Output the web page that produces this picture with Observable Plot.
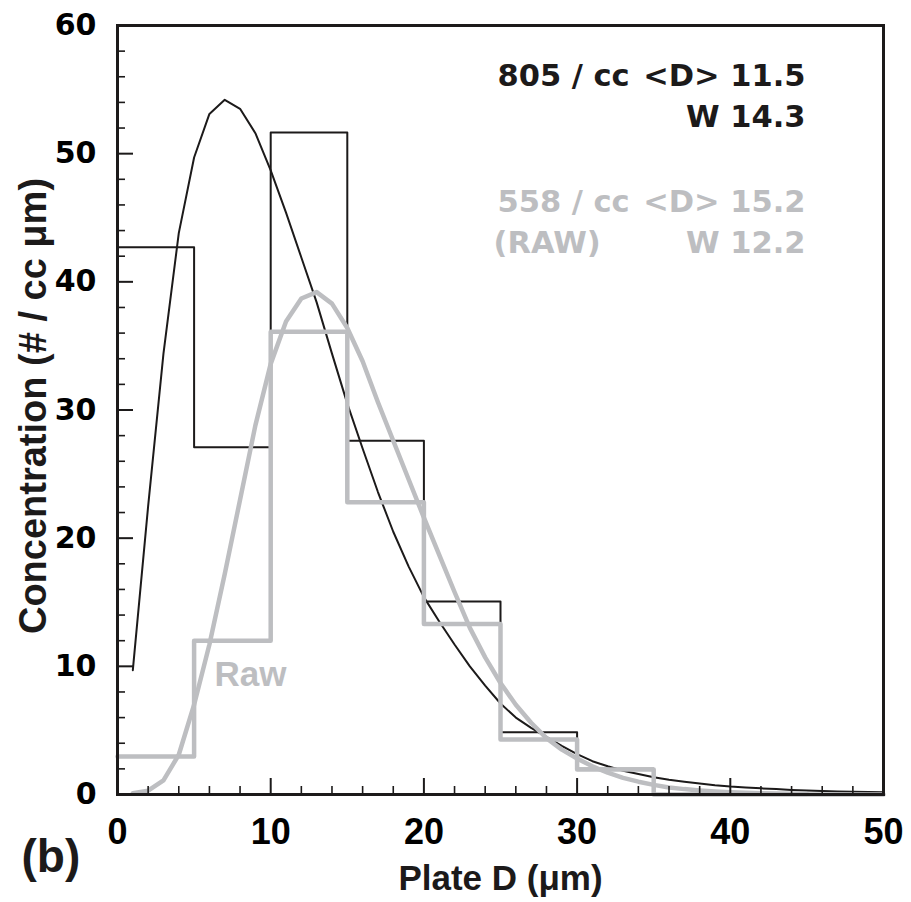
<!DOCTYPE html>
<html><head><meta charset="utf-8">
<script src="https://cdn.jsdelivr.net/npm/d3@7"></script>
<script src="https://cdn.jsdelivr.net/npm/@observablehq/plot@0.6"></script>
<style>body{margin:0;background:#fff}</style>
</head><body><div id="chart"></div>
<script>
// Histogram bin edges (µm) and bin concentrations
const binEdges = [0, 5, 10, 15, 20, 25, 30, 35, 50];
const correctedBins = [42.7, 27.1, 51.65, 27.6, 15.05, 4.85, 2.0, 0];
const rawBins = [2.96, 12.0, 36.1, 22.8, 13.3, 4.3, 1.95, 0];

// Fitted size distributions
const correctedFitD = [1,2,3,4,5,6,7,8,9,10,11,12,13,14,15,16,17,18,19,20,21,22,23,24,25,26,27,28,29,30,31,32,33,34,35,36,37,38,39,40,41,42,43,44,45,46,47,48,49,50];
const correctedFit = [9.7,22.5,34.4,43.8,49.7,53.1,54.2,53.5,51.6,48.7,45.4,41.9,38.4,34.4,30.5,27.0,23.6,20.5,17.8,15.4,13.5,11.7,10.0,8.5,7.1,6.0,5.2,4.5,3.8,3.15,2.6,2.2,1.85,1.6,1.35,1.15,1.0,0.85,0.72,0.62,0.55,0.48,0.42,0.36,0.31,0.27,0.24,0.22,0.2,0.18];
const rawFitD = [1,2,3,4,5,6,7,8,9,10,11,12,13,14,15,16,17,18,19,20,21,22,23,24,25,26,27,28,29,30,31,32,33,34,35,36,37,38,39,40,41,42,43,44,45];
const rawFit = [0.1,0.3,1.1,3.1,7.0,11.7,17.2,23.0,28.8,33.6,36.9,38.7,39.2,38.3,36.4,33.8,30.6,27.6,24.6,21.6,18.7,15.8,13.0,10.7,8.7,7.0,5.6,4.4,3.5,2.8,2.2,1.7,1.3,1.0,0.75,0.55,0.42,0.32,0.24,0.18,0.13,0.1,0.07,0.05,0.04];

// Ticks
const xTicks = [0, 10, 20, 30, 40, 50];
const xMinorTicks = [2,4,6,8,12,14,16,18,22,24,26,28,32,34,36,38,42,44,46,48];
const yTicks = [0, 10, 20, 30, 40, 50, 60];
const yMinorTicks = [2,4,6,8,12,14,16,18,22,24,26,28,32,34,36,38,42,44,46,48,52,54,56,58];

// Texts
const xLabel = "Plate D (\u03bcm)";
const yLabel = "Concentration (# / cc \u03bcm)";
const panelLabel = "(b)";
const correctedCount = "805 / cc";
const correctedStats = ["<D> 11.5", "W 14.3"];
const rawCount = ["558 / cc", "(RAW)"];
const rawStats = ["<D> 15.2", "W 12.2"];
const rawTag = "Raw";

const BLACK = "#1c1a1a";
const GREY = "#bdbec1";
const DJ = "'DejaVu Sans', sans-serif";
const LIB = "'Liberation Sans', Arial, Helvetica, sans-serif";

const W = 911, H = 902, ML = 117, MR = 28, MT = 25, MB = 108;
const PW = W - ML - MR, PH = H - MT - MB;
const X_DOMAIN = [0, 50], Y_DOMAIN = [0, 60];
// tick lengths in pixels, converted to data units for the rules
const xLen = (px) => px * (X_DOMAIN[1] - X_DOMAIN[0]) / PW;
const yLen = (px) => px * (Y_DOMAIN[1] - Y_DOMAIN[0]) / PH;

const step = (vals) => binEdges.map((e, i) => ({x: e, y: vals[Math.min(i, vals.length - 1)]}));
const series = (xs, ys) => xs.map((x, i) => ({x, y: ys[i]}));
const txt = {fontFamily: DJ, fontSize: 30.5, fontWeight: "bold", lineAnchor: "middle", frameAnchor: "top-right"};
const lineDy = [51, 92];
const rawDy = [177, 218];

const chart = Plot.plot({
  width: W,
  height: H,
  marginLeft: ML,
  marginRight: MR,
  marginTop: MT,
  marginBottom: MB,
  x: {domain: X_DOMAIN, axis: null},
  y: {domain: Y_DOMAIN, axis: null},
  style: {fontFamily: LIB, fontWeight: "bold", background: "white"},
  marks: [
    Plot.line(step(correctedBins), {x: "x", y: "y", curve: "step-after", stroke: BLACK, strokeWidth: 2}),
    Plot.line(series(correctedFitD, correctedFit), {x: "x", y: "y", stroke: BLACK, strokeWidth: 2}),
    Plot.line(step(rawBins), {x: "x", y: "y", curve: "step-after", stroke: GREY, strokeWidth: 4.5}),
    Plot.line(series(rawFitD, rawFit), {x: "x", y: "y", stroke: GREY, strokeWidth: 4.5}),

    // tick labels
    Plot.axisY(yTicks, {anchor: "left", tickSize: 0, tickPadding: 21, fontFamily: DJ, fontSize: 30, fontWeight: "bold", label: null}),
    Plot.axisX(xTicks, {anchor: "bottom", tickSize: 0, tickPadding: 24, fontFamily: LIB, fontSize: 36, fontWeight: "bold", label: null}),

    Plot.frame({stroke: BLACK, strokeWidth: 3}),

    // inward ticks
    Plot.tickY(yTicks, {y: d => d, insetRight: PW - 16, stroke: BLACK, strokeWidth: 2}),
    Plot.tickX(xTicks, {x: d => d, insetTop: PH - 16, stroke: BLACK, strokeWidth: 2}),
    Plot.ruleY(yMinorTicks, {y: d => d, x1: X_DOMAIN[0], x2: xLen(8), stroke: BLACK, strokeWidth: 1.6}),
    Plot.ruleX(xMinorTicks, {x: d => d, y1: Y_DOMAIN[0], y2: yLen(8), stroke: BLACK, strokeWidth: 1.6}),

    Plot.text([yLabel], {frameAnchor: "left", rotate: -90, dx: -84, dy: -4, fontSize: 38, fontFamily: LIB, fontWeight: "bold", textAnchor: "middle", lineAnchor: "middle", fill: BLACK}),
    Plot.text([xLabel], {frameAnchor: "bottom", dy: 84, fontSize: 35, fontFamily: LIB, fontWeight: "bold", textAnchor: "middle", lineAnchor: "middle", fill: BLACK}),
    Plot.text([panelLabel], {frameAnchor: "bottom-left", dx: -96, dy: 63, fontSize: 46, fontFamily: LIB, fontWeight: "bold", textAnchor: "start", lineAnchor: "middle", fill: BLACK}),

    Plot.text([correctedCount], {...txt, dx: -386, dy: lineDy[0], textAnchor: "start", fill: BLACK}),
    Plot.text([correctedStats[0]], {...txt, dx: -78, dy: lineDy[0], textAnchor: "end", fill: BLACK}),
    Plot.text([correctedStats[1]], {...txt, dx: -78, dy: lineDy[1], textAnchor: "end", fill: BLACK}),
    Plot.text([rawCount[0]], {...txt, dx: -386, dy: rawDy[0], textAnchor: "start", fill: GREY}),
    Plot.text([rawCount[1]], {...txt, dx: -390, dy: rawDy[1], textAnchor: "start", fill: GREY}),
    Plot.text([rawStats[0]], {...txt, dx: -78, dy: rawDy[0], textAnchor: "end", fill: GREY}),
    Plot.text([rawStats[1]], {...txt, dx: -78, dy: rawDy[1], textAnchor: "end", fill: GREY}),

    Plot.text([rawTag], {frameAnchor: "bottom-left", dx: 97, dy: -120, fontSize: 35, fontFamily: LIB, fontWeight: "bold", textAnchor: "start", lineAnchor: "middle", fill: GREY})
  ]
});
document.getElementById("chart").append(chart);
</script>
</body></html>
